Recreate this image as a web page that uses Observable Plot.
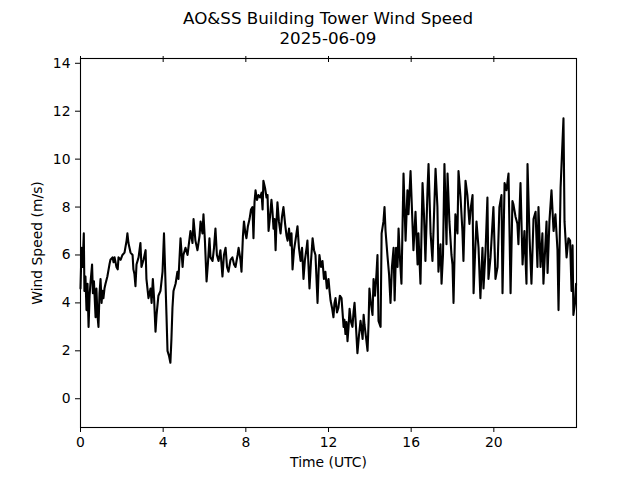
<!DOCTYPE html>
<html><head><meta charset="utf-8">
<script src="https://cdn.jsdelivr.net/npm/d3@7"></script>
<script src="https://cdn.jsdelivr.net/npm/@observablehq/plot@0.6"></script>
<style>
body{margin:0;background:#fff;font-family:"DejaVu Sans",sans-serif;}
#wrap{width:640px;}
#title{width:640px;height:48px;position:relative;font-size:16.7px;color:#000;}
#title div{position:absolute;left:0;width:656px;text-align:center;line-height:20px;white-space:nowrap;}
</style>
</head><body>
<div id="wrap">
<div id="title"><div style="top:8px">AO&amp;SS Building Tower Wind Speed</div><div style="top:28px">2025-06-09</div></div>
<div id="chart"></div>
</div>
<script>
const xTicks = [0, 4, 8, 12, 16, 20];
const yTicks = [0, 2, 4, 6, 8, 10, 12, 14];
const hours = [
0,0.05,0.1,0.16,0.19,0.24,0.29,0.34,0.39,0.44,0.48,0.56,0.6,0.65,0.73,0.77,0.82,0.87,0.92,0.97,
1.02,1.06,1.11,1.16,1.21,1.3,1.4,1.45,1.55,1.6,1.65,1.74,1.8,1.84,1.94,2.03,2.13,2.23,2.27,2.32,
2.42,2.52,2.56,2.61,2.66,2.71,2.81,2.9,2.95,3.05,3.15,3.19,3.29,3.39,3.44,3.5,3.56,3.63,3.68,3.77,
3.87,3.97,4.04,4.09,4.16,4.21,4.28,4.35,4.4,4.45,4.5,4.6,4.69,4.74,4.84,4.94,4.98,5.08,5.18,5.32,
5.42,5.47,5.56,5.66,5.76,5.81,5.9,5.95,6.02,6.1,6.17,6.24,6.29,6.39,6.46,6.53,6.6,6.68,6.77,6.87,
6.94,7.02,7.09,7.16,7.26,7.35,7.43,7.5,7.6,7.65,7.74,7.79,7.86,7.91,7.98,8.03,8.1,8.18,8.25,8.32,
8.37,8.42,8.47,8.54,8.61,8.69,8.76,8.81,8.85,8.93,9.0,9.05,9.1,9.17,9.24,9.29,9.34,9.39,9.44,9.48,
9.53,9.6,9.68,9.75,9.82,9.9,9.97,10.02,10.09,10.16,10.21,10.26,10.33,10.4,10.5,10.57,10.65,10.72,10.79,10.86,
10.94,10.98,11.03,11.08,11.15,11.23,11.3,11.37,11.42,11.47,11.52,11.56,11.64,11.71,11.78,11.85,11.92,12.0,12.05,12.1,
12.17,12.24,12.29,12.34,12.41,12.48,12.55,12.63,12.68,12.73,12.77,12.82,12.87,12.92,12.97,13.02,13.09,13.16,13.21,13.26,
13.33,13.4,13.47,13.55,13.6,13.65,13.7,13.74,13.81,13.89,13.94,13.98,14.05,14.13,14.18,14.25,14.32,14.37,14.42,14.52,
14.57,14.66,14.71,14.76,14.85,14.93,15.0,15.07,15.15,15.2,15.27,15.34,15.39,15.46,15.53,15.63,15.73,15.82,15.87,15.97,
16.06,16.11,16.21,16.31,16.35,16.45,16.55,16.62,16.69,16.79,16.84,16.94,17.03,17.08,17.18,17.27,17.32,17.42,17.47,17.54,
17.61,17.71,17.76,17.85,17.95,18.0,18.05,18.14,18.24,18.29,18.39,18.48,18.53,18.63,18.72,18.82,18.89,18.97,19.02,19.09,
19.16,19.26,19.35,19.45,19.5,19.6,19.69,19.74,19.84,19.94,19.98,20.08,20.18,20.27,20.37,20.42,20.52,20.61,20.71,20.81,
20.9,20.95,21.05,21.14,21.19,21.29,21.39,21.48,21.58,21.63,21.73,21.82,21.92,22.02,22.11,22.16,22.26,22.35,22.4,22.55,
22.6,22.69,22.79,22.89,22.98,23.08,23.13,23.23,23.37,23.42,23.52,23.61,23.69,23.76,23.81,23.85,23.93,23.98
];
const speed = [
4.6,6.3,5.5,6.9,4.5,5.1,3.7,4.8,3.0,4.3,4.8,5.6,4.4,4.9,3.4,4.6,3.5,3.0,4.4,5.0,
4.0,4.5,4.2,4.6,4.8,5.1,5.6,5.8,5.9,5.7,5.9,5.5,5.4,5.9,5.8,6.0,6.1,6.6,6.9,6.5,
6.1,6.0,5.4,5.2,4.7,5.6,5.9,6.5,5.5,5.8,6.2,5.0,4.2,4.6,4.0,5.0,4.2,2.8,3.5,4.3,
4.5,5.3,6.9,5.5,3.5,2.0,1.8,1.5,2.5,3.8,4.5,4.8,5.3,5.0,6.7,5.5,6.0,6.3,6.0,7.0,
6.5,7.5,6.6,6.2,6.8,7.4,6.9,7.7,6.6,4.9,5.7,6.7,5.9,5.75,6.3,7.1,6.0,5.75,6.2,5.1,
6.0,6.3,5.5,5.3,5.8,5.9,5.6,5.5,6.0,6.3,5.8,5.3,6.8,7.4,6.9,6.7,7.2,7.5,7.9,8.0,
6.7,8.2,8.7,8.3,8.5,8.4,8.6,7.9,9.1,8.8,8.4,8.5,7.0,7.6,8.3,7.8,7.1,7.5,6.2,7.3,
8.2,7.4,6.9,7.6,8.0,7.3,6.8,6.6,7.1,6.4,6.9,5.4,6.2,6.6,7.2,6.3,5.75,6.3,5.0,5.8,
6.3,6.6,5.6,4.6,5.7,6.7,6.2,6.0,5.0,4.0,5.3,6.0,5.5,5.75,5.0,5.3,4.6,5.0,4.5,4.1,
3.8,3.4,4.0,4.2,3.6,3.8,4.3,4.2,3.6,3.0,3.3,2.7,3.2,2.4,3.0,3.75,3.2,3.0,3.6,4.0,
3.0,1.9,2.6,3.25,2.9,2.5,3.5,3.1,2.6,2.0,3.2,4.6,4.0,3.5,5.0,4.3,5.2,6.0,3.25,3.0,
6.9,7.4,8.0,7.0,6.0,5.2,4.0,5.5,6.3,4.1,6.3,5.5,7.1,5.8,4.8,9.4,6.6,8.7,7.7,9.5,
7.4,6.2,7.8,5.6,6.9,4.8,9.0,7.7,5.75,8.7,9.8,6.9,5.75,7.0,9.6,8.0,5.3,6.45,4.8,6.0,
9.8,6.45,9.4,7.4,6.0,5.6,4.0,7.7,6.9,9.5,8.4,7.0,5.75,9.1,8.5,7.3,8.0,8.5,4.4,6.0,
7.4,6.3,4.2,6.3,4.6,6.2,8.4,5.0,5.9,7.4,8.0,5.0,5.5,8.0,8.5,4.4,9.0,8.7,9.4,4.4,
8.25,8.1,7.6,7.3,6.45,9.0,5.6,7.0,4.8,9.8,6.7,4.8,7.5,7.8,5.5,8.0,5.5,6.9,4.8,7.4,
5.25,7.4,8.7,7.0,7.7,6.2,3.7,8.8,11.7,7.4,5.9,6.7,6.6,4.5,6.4,3.5,4.0,4.8
];
const data = hours.map((h, i) => ({h, v: speed[i]}));
const chart = Plot.plot({
  width: 640, height: 432,
  marginTop: 10, marginBottom: 53, marginLeft: 80, marginRight: 64,
  style: {fontFamily: "DejaVu Sans", fontSize: "13.9px", color: "#000", background: "#fff", overflow: "visible"},
  x: {domain: [0, 24]},
  y: {domain: [-1.2, 14.2]},
  marks: [
    Plot.line(data, {x: "h", y: "v", stroke: "#000", strokeWidth: 2.1}),
    Plot.frame({stroke: "#000", strokeWidth: 1.1}),
    Plot.axisX({ticks: xTicks, tickSize: 5, tickPadding: 5, tickFormat: d => String(d), label: "Time (UTC)", labelAnchor: "center", labelOffset: 39, labelArrow: "none"}),
    Plot.axisX({anchor: "top", ticks: xTicks, tickSize: 6, dy: 3, tickFormat: () => "", label: null}),
    Plot.axisY({ticks: yTicks, tickSize: 5, tickPadding: 5, tickFormat: d => String(d), label: "Wind Speed (m/s)", labelAnchor: "center", labelOffset: 48, labelArrow: "none"})
  ]
});
document.getElementById("chart").appendChild(chart);
</script>
</body></html>
